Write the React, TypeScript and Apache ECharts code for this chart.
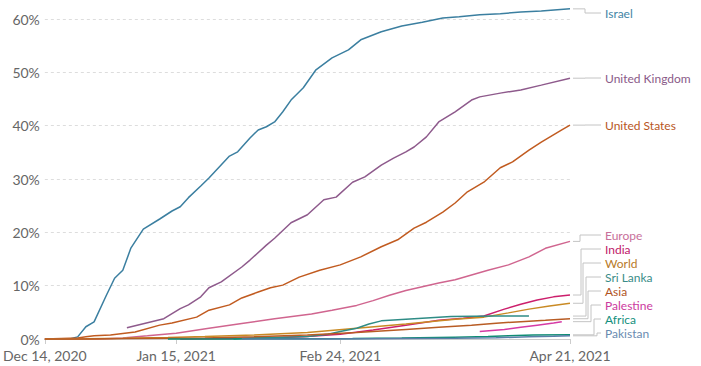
import React, { useEffect, useRef } from "react";
import * as echarts from "echarts";

const xTickDays = [0, 32, 72, 128];
const xTickLabels = ["Dec 14, 2020", "Jan 15, 2021", "Feb 24, 2021", "Apr 21, 2021"];

const israel = [[0,0],[6,0],[8,0.4],[10,2.3],[12,3.2],[15,8.2],[17,11.4],[19,12.9],[21,17.1],[24,20.6],[28,22.5],[31,24.0],[33,24.8],[35,26.5],[38,28.7],[40,30.2],[45,34.3],[47,35.1],[50,37.7],[52,39.2],[54,39.8],[56,40.7],[58,42.6],[60,44.8],[63,47.1],[66,50.4],[70,52.7],[74,54.2],[77,56.1],[82,57.6],[87,58.7],[92,59.4],[97,60.2],[101,60.4],[106,60.8],[111,61.0],[116,61.3],[121,61.5],[128,61.9]];
const unitedKingdom = [[20,2.1],[29,3.8],[33,5.7],[35,6.4],[38,7.9],[40,9.6],[43,10.7],[48,13.5],[50,14.8],[54,17.6],[56,18.9],[60,21.8],[64,23.3],[68,26.1],[71,26.6],[75,29.4],[78,30.4],[82,32.6],[85,33.9],[88,35.1],[90,36.0],[93,37.9],[96,40.7],[100,42.6],[104,44.8],[106,45.4],[111,46.1],[116,46.7],[121,47.6],[128,48.9]];
const unitedStates = [[0,0],[8,0.2],[10,0.4],[12,0.6],[16,0.75],[22,1.3],[28,2.6],[31,3.0],[37,4.1],[40,5.4],[45,6.4],[48,7.7],[52,8.8],[55,9.6],[58,10.1],[62,11.6],[67,12.9],[72,13.9],[77,15.4],[82,17.3],[86,18.6],[90,20.8],[93,21.9],[97,23.8],[100,25.5],[103,27.6],[107,29.4],[111,32.1],[114,33.2],[118,35.4],[121,36.9],[126,39.2],[128,40.1]];
const europe = [[0,0],[13,0],[19,0.2],[25,0.6],[32,1.1],[40,2.0],[48,2.9],[56,3.8],[65,4.7],[70,5.4],[76,6.3],[80,7.2],[84,8.2],[88,9.1],[92,9.8],[96,10.5],[100,11.1],[104,12.0],[108,12.9],[113,13.9],[118,15.4],[122,17.0],[128,18.3]];
const india = [[33,0],[45,0.1],[55,0.25],[63,0.4],[72,0.9],[80,1.7],[88,2.6],[96,3.5],[102,3.9],[107,4.3],[112,5.6],[116,6.5],[120,7.3],[124,7.9],[128,8.25]];
const world = [[0,0],[10,0.05],[19,0.15],[30,0.3],[39,0.45],[51,0.75],[64,1.2],[76,2.0],[88,2.8],[100,3.7],[107,4.1],[113,4.9],[118,5.6],[123,6.2],[128,6.7]];
const sriLanka = [[46,0],[50,0.2],[58,0.35],[64,0.45],[69,0.9],[72,1.4],[76,2.0],[79,2.8],[82,3.4],[88,3.7],[94,4.0],[99,4.2],[110,4.3],[118,4.3]];
const asia = [[0,0],[10,0.02],[20,0.08],[30,0.15],[39,0.2],[51,0.4],[64,0.75],[76,1.2],[88,1.8],[96,2.2],[104,2.6],[110,2.95],[116,3.25],[122,3.5],[128,3.8]];
const palestine = [[106,1.4],[112,1.8],[116,2.2],[120,2.6],[124,3.0],[126,3.25]];
const africa = [[30,0],[45,0.02],[60,0.05],[75,0.1],[87,0.2],[100,0.35],[108,0.45],[113,0.6],[119,0.75],[128,0.78]];
const pakistan = [[48,0],[70,0.02],[88,0.08],[100,0.15],[110,0.25],[118,0.4],[124,0.5],[128,0.6]];

const seriesList = [
  { name: "Israel", data: israel, color: "#3b7fa0", labelColor: "#4485a6", labelY: 13, elbowX: 585 },
  { name: "United Kingdom", data: unitedKingdom, color: "#8e5a8c", labelColor: "#8a5a88", labelY: 78, elbowX: 585 },
  { name: "United States", data: unitedStates, color: "#c15b20", labelColor: "#b8561e", labelY: 125, elbowX: 585 },
  { name: "Europe", data: europe, color: "#d0658f", labelColor: "#c8709a", labelY: 235, elbowX: 580 },
  { name: "India", data: india, color: "#cc1f6c", labelColor: "#c0186a", labelY: 249, elbowX: 581 },
  { name: "World", data: world, color: "#c98a24", labelColor: "#b87a28", labelY: 263, elbowX: 583 },
  { name: "Sri Lanka", data: sriLanka, color: "#2f8c86", labelColor: "#3a8c88", labelY: 277, elbowX: 586 },
  { name: "Asia", data: asia, color: "#b85c24", labelColor: "#b0541e", labelY: 291, elbowX: 588 },
  { name: "Palestine", data: palestine, color: "#d63aa5", labelColor: "#cc3a9e", labelY: 305, elbowX: 591 },
  { name: "Africa", data: africa, color: "#0f8c74", labelColor: "#14907e", labelY: 319, elbowX: 594 },
  { name: "Pakistan", data: pakistan, color: "#5a7fa8", labelColor: "#6a8bb0", labelY: 333, elbowX: 597 },
];

const labelX = 605;

export default function App() {
  const ref = useRef<HTMLDivElement>(null);
  useEffect(() => {
    if (!ref.current) return;
    const chart = echarts.init(ref.current, null, { renderer: "svg" });
    const font = "Lato, 'Noto Sans', sans-serif";
    chart.setOption({
      animation: false,
      grid: { left: 40, right: 131, top: 19, bottom: 27, containLabel: false },
      xAxis: {
        type: "value",
        min: 0,
        max: 128,
        axisLine: { show: true, lineStyle: { color: "#cccccc", width: 1 } },
        axisTick: { show: true, length: 5, lineStyle: { color: "#cccccc" }, customValues: xTickDays },
        axisLabel: {
          customValues: xTickDays,
          margin: 9,
          lineHeight: 14,
          color: "#666666",
          fontSize: 14,
          fontFamily: font,
          formatter: (v: number) => {
            const i = xTickDays.indexOf(Math.round(v));
            return i >= 0 ? xTickLabels[i] : "";
          },
        },
        splitLine: { show: false },
      },
      yAxis: {
        type: "value",
        min: 0,
        max: 60,
        interval: 10,
        axisLine: { show: false },
        axisTick: { show: false },
        axisLabel: { margin: 5, lineHeight: 14, color: "#666666", fontSize: 14, fontFamily: font, formatter: "{value}%" },
        splitLine: { show: true, lineStyle: { color: "#dddddd", type: [3, 3], width: 1 } },
      },
      series: seriesList.map((s) => ({
        name: s.name,
        type: "line",
        data: s.data,
        showSymbol: false,
        symbol: "none",
        clip: false,
        lineStyle: { color: s.color, width: 1.5 },
        itemStyle: { color: s.color },
      })),
    });

    const rightPx = chart.convertToPixel({ gridIndex: 0 }, [128, 0])[0];
    const elements: any[] = [];
    seriesList.forEach((s) => {
      const last = s.data[s.data.length - 1];
      const py = chart.convertToPixel({ gridIndex: 0 }, [last[0], last[1]])[1];
      elements.push({
        type: "polyline",
        shape: {
          points: [
            [rightPx + 3, py],
            [s.elbowX, py],
            [s.elbowX, s.labelY],
            [labelX - 4, s.labelY],
          ],
        },
        style: { stroke: "#c4c4c4", lineWidth: 1, fill: null },
        silent: true,
      });
      elements.push({
        type: "text",
        x: labelX,
        y: s.labelY,
        style: {
          text: s.name,
          fill: s.labelColor,
          font: `12px ${font}`,
          textVerticalAlign: "middle",
          textAlign: "left",
        },
        silent: true,
      });
    });
    chart.setOption({ graphic: { elements } });

    return () => chart.dispose();
  }, []);
  return (
    <div
      ref={ref}
      style={{ position: "fixed", left: 0, top: 0, width: 701, height: 366, background: "#ffffff" }}
    />
  );
}
